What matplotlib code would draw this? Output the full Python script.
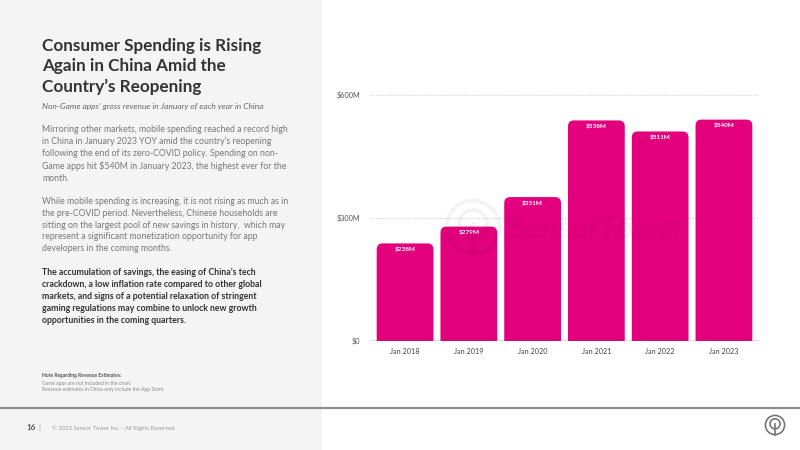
import matplotlib.pyplot as plt
from matplotlib.patches import FancyBboxPatch, Rectangle, Circle

# data
years = ["Jan 2018", "Jan 2019", "Jan 2020", "Jan 2021", "Jan 2022", "Jan 2023"]
revenue = [238, 279, 351, 538, 511, 540]  # $M
bar_labels = ["$238M", "$279M", "$351M", "$538M", "$511M", "$540M"]
yticks = [0, 300, 600]
ytick_labels = ["$0", "$300M", "$600M"]

title = "Consumer Spending is Rising\nAgain in China Amid the\nCountry\u2019s Reopening"
subtitle = "Non-Game apps\u2019 gross revenue in January of each year in China"
para1 = ("Mirroring other markets, mobile spending reached a record high\n"
         "in China in January 2023 YOY amid the country\u2019s reopening\n"
         "following the end of its zero-COVID policy. Spending on non-\n"
         "Game apps hit $540M in January 2023, the highest ever for the\n"
         "month.")
para2 = ("While mobile spending is increasing, it is not rising as much as in\n"
         "the pre-COVID period. Nevertheless, Chinese households are\n"
         "sitting on the largest pool of new savings in history,  which may\n"
         "represent a significant monetization opportunity for app\n"
         "developers in the coming months.")
para3 = ("The accumulation of savings, the easing of China\u2019s tech\n"
         "crackdown, a low inflation rate compared to other global\n"
         "markets, and signs of a potential relaxation of stringent\n"
         "gaming regulations may combine to unlock new growth\n"
         "opportunities in the coming quarters.")

PINK = "#e2007c"
W, H = 800, 450
FONT = "Lato"
plt.rcParams["font.family"] = [FONT, "DejaVu Sans"]
plt.rcParams["text.parse_math"] = False


def fx(x):
    return x / W


def fy(y):
    return 1 - y / H


fig = plt.figure(figsize=(8, 4.5), dpi=100)
fig.patch.set_facecolor("white")

# left panel + footer
fig.add_artist(Rectangle((0, 0), fx(322), 1, transform=fig.transFigure,
                         facecolor="#f4f4f4", edgecolor="none", zorder=0))
fig.add_artist(plt.Line2D([0, 1], [fy(408), fy(408)], transform=fig.transFigure,
                          color="#8c8c8c", lw=1.6, zorder=1))

fig.text(fx(42), fy(38), title, fontsize=12.3, fontweight="bold", color="#333333",
         va="top", ha="left", linespacing=1.32)
fig.text(fx(42), fy(106), subtitle, fontsize=6.0, style="italic", color="#666666",
         va="center", ha="left")
fig.text(fx(42), fy(125), para1, fontsize=6.35, color="#777777", va="top", ha="left",
         linespacing=1.4)
fig.text(fx(42), fy(197), para2, fontsize=6.35, color="#777777", va="top", ha="left",
         linespacing=1.4)
fig.text(fx(42), fy(268), para3, fontsize=6.35, fontweight="bold", color="#333333",
         va="top", ha="left", linespacing=1.4)
fig.text(fx(42), fy(376), "Note Regarding Revenue Estimates:", fontsize=3.6,
         fontweight="bold", color="#555555", va="center")
fig.text(fx(42), fy(383), "Game apps are not included in the chart.", fontsize=3.6,
         color="#888888", va="center")
fig.text(fx(42), fy(390), "Revenue estimates in China only include the App Store.",
         fontsize=3.6, color="#888888", va="center")

fig.text(fx(26), fy(428), "16", fontsize=5.8, fontweight="bold", color="#555555", va="center")
fig.text(fx(38), fy(427), "|", fontsize=5.5, color="#999999", va="center")
fig.text(fx(52), fy(428), "\u00a9 2023 Sensor Tower Inc. - All Rights Reserved", fontsize=4.2,
         color="#999999", va="center")

# chart
ax_l, ax_r, ax_t, ax_b = 370, 759, 95, 341
ax = fig.add_axes([fx(ax_l), fy(ax_b), (ax_r - ax_l) / W, (ax_b - ax_t) / H])
ax.set_facecolor("none")
x0, x1 = -0.55, 5.55
y0, y1 = 0, 600
ax.set_xlim(x0, x1)
ax.set_ylim(y0, y1)

px_x = (ax_r - ax_l) / (x1 - x0)
px_y = (ax_b - ax_t) / (y1 - y0)
rad = 6 / px_x
aspect = px_x / px_y
bw = 0.89

for i, v in enumerate(revenue):
    p = FancyBboxPatch((i - bw / 2, -20), bw, v + 20,
                       boxstyle=f"round,pad=0,rounding_size={rad}",
                       mutation_aspect=aspect, facecolor=PINK, edgecolor="none",
                       zorder=2)
    ax.add_patch(p)
    p.set_clip_on(True)
    ax.text(i, v - 6 / px_y, bar_labels[i], ha="center", va="center", fontsize=4.6,
            fontweight="bold", color="white", zorder=4)

for t in yticks[1:]:
    ax.axhline(t, color="#cccccc", lw=0.8, ls=(0, (1, 1.5)), zorder=1, clip_on=False)
ax.axhline(0, color="#555555", lw=1.0, zorder=3)

ax.set_xticks(range(len(years)))
ax.set_xticklabels(years, fontsize=5.2, color="#444444")
ax.set_yticks(yticks)
ax.set_yticklabels(ytick_labels, fontsize=5.2, color="#555555")
ax.tick_params(length=0, pad=5)
ax.tick_params(axis="y", pad=7)
for s in ax.spines.values():
    s.set_visible(False)

# watermark
wm = fig.add_axes([fx(442), fy(258), 62 / W, 62 / H])
wm.set_xlim(-1, 1)
wm.set_ylim(-1, 1)
wm.set_aspect("equal")
wm.axis("off")
wm.add_patch(Circle((0, 0), 0.85, fill=False, lw=3, ec="#000000", alpha=0.045, zorder=5))
wm.add_patch(Circle((0, 0.1), 0.45, fill=False, lw=3, ec="#000000", alpha=0.045, zorder=5))
wm.plot([0, 0], [-0.85, 0.1], color="#000000", lw=3, alpha=0.045, zorder=5)
fig.text(fx(509), fy(229), "SensorTower", fontsize=21.5, color="#000000", alpha=0.045,
         va="center", ha="left", zorder=5)

# footer logo
lg = fig.add_axes([fx(763), fy(437), 24 / W, 24 / H])
lg.set_xlim(-1, 1)
lg.set_ylim(-1, 1)
lg.set_aspect("equal")
lg.axis("off")
lg.add_patch(Circle((0, 0), 0.8, fill=False, lw=1.2, ec="#777777"))
lg.add_patch(Circle((0, 0.1), 0.42, fill=False, lw=1.2, ec="#777777"))
lg.plot([0, 0], [-0.8, 0.1], color="#777777", lw=1.2)

fig.savefig("out.png", dpi=100)
